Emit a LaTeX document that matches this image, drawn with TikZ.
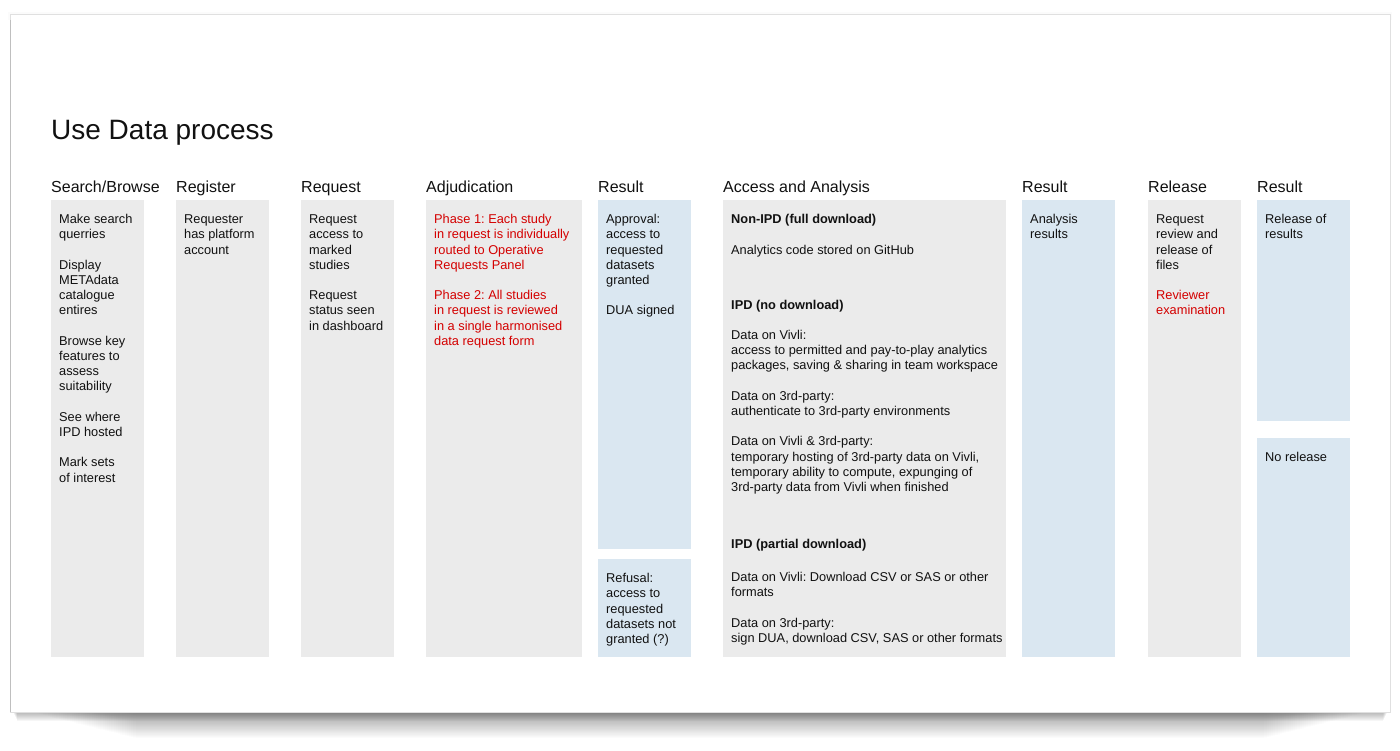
\documentclass[tikz,border=0pt]{standalone}
\usepackage{fontspec}
\setmainfont{Liberation Sans}
\definecolor{boxgray}{HTML}{EBEBEB}
\definecolor{boxblue}{HTML}{DAE7F1}
\definecolor{txtred}{HTML}{D40000}
\definecolor{txtblack}{HTML}{111111}
\newcommand\fst{\rule{0pt}{11pt}}
\newcommand\gp{\\[15.2pt]}
\frenchspacing
\tikzset{
  colbox/.style={fill=boxgray, draw=none, anchor=north west, inner sep=0, outer sep=0},
  resbox/.style={fill=boxblue, draw=none, anchor=north west, inner sep=0, outer sep=0},
  hdr/.style={anchor=base west, inner sep=0, font=\fontsize{16}{19}\selectfont, text=txtblack},
  body/.style={anchor=north west, inner sep=0, align=left, font=\fontsize{12.8}{15.2}\selectfont, text=txtblack},
  redbody/.style={body, text=txtred},
}
\begin{document}
\frenchspacing
\begin{tikzpicture}[x=1pt, y=-1pt]
\useasboundingbox (0,0) rectangle (1400,751);
% card shadow: soft halo
\foreach \i in {1,...,48}
  \fill[black, opacity=0.006] ({30+\i*2.2},600) rectangle ({1370-\i*2.2},{712+\i*0.55});
% card shadow: dark band right under the card
\foreach \i in {1,...,10}
  \fill[black, opacity=0.036] ({12+\i*0.5},600) rectangle ({1388-\i*0.5},{711+\i*1.0});
\fill[black, opacity=0.015] (8,12) rectangle (1392,20);
% card
\path[fill=white, draw=black!12, line width=1pt] (10,15) rectangle (1390,712);
\draw[black!25, line width=1pt] (10.5,20) -- (10.5,711.5);

% title
\node[anchor=base west, inner sep=0, font=\fontsize{28}{33}\selectfont, text=txtblack] (title) at (51,139.5) {Use Data process};

% headers
\node[hdr] (h1) at (51,192.5) {Search/Browse};
\node[hdr] (h2) at (176,192.5) {Register};
\node[hdr] (h3) at (301,192.5) {Request};
\node[hdr] (h4) at (426,192.5) {Adjudication};
\node[hdr] (h5) at (598,192.5) {Result};
\node[hdr] (h6) at (723,192.5) {Access and Analysis};
\node[hdr] (h7) at (1022,192.5) {Result};
\node[hdr] (h8) at (1148,192.5) {Release};
\node[hdr] (h9) at (1257,192.5) {Result};

% boxes
\node[colbox, minimum width=93, minimum height=457] (b1) at (51,200) {};
\node[colbox, minimum width=93, minimum height=457] (b2) at (176,200) {};
\node[colbox, minimum width=93, minimum height=457] (b3) at (301,200) {};
\node[colbox, minimum width=156, minimum height=457] (b4) at (426,200) {};
\node[resbox, minimum width=93, minimum height=349] (b5a) at (598,200) {};
\node[resbox, minimum width=93, minimum height=98] (b5b) at (598,559) {};
\node[colbox, minimum width=283, minimum height=457] (b6) at (723,200) {};
\node[resbox, minimum width=93, minimum height=457] (b7) at (1022,200) {};
\node[colbox, minimum width=93, minimum height=457] (b8) at (1148,200) {};
\node[resbox, minimum width=93, minimum height=221] (b9a) at (1257,200) {};
\node[resbox, minimum width=93, minimum height=219] (b9b) at (1257,438) {};

% texts
\node[body] (t1) at (59,212.5) {\fst Make search\\querries\gp Display\\METAdata\\catalogue\\entires\gp Browse key\\features to\\assess\\suitability\gp See where\\IPD hosted\gp Mark sets\\of interest};
\node[body] (t2) at (184,212.5) {\fst Requester\\has platform\\account};
\node[body] (t3) at (309,212.5) {\fst Request\\access to\\marked\\studies\gp Request\\status seen\\in dashboard};
\node[redbody] (t4) at (434,212.5) {\fst Phase 1: Each study\\in request is individually\\routed to Operative\\Requests Panel\gp Phase 2: All studies\\in request is reviewed\\in a single harmonised\\data request form};
\node[body] (t5a) at (606,212.5) {\fst Approval:\\access to\\requested\\datasets\\granted\gp DUA signed};
\node[body] (t5b) at (606,571.5) {\fst Refusal:\\access to\\requested\\datasets not\\granted (?)};
\node[body] (t6a) at (731,212.5) {\fst\bfseries Non-IPD (full download)\gp\mdseries Analytics code stored on GitHub};
\node[body] (t6b) at (731,297.8) {\fst\bfseries IPD (no download)\gp\mdseries Data on Vivli:\\access to permitted and pay-to-play analytics\\packages, saving \& sharing in team workspace\gp Data on 3rd-party:\\authenticate to 3rd-party environments\gp Data on Vivli \& 3rd-party:\\temporary hosting of 3rd-party data on Vivli,\\temporary ability to compute, expunging of\\3rd-party data from Vivli when finished};
\node[body, font=\fontsize{12.8}{15.2}\selectfont\bfseries] (t6c) at (731,537.5) {\fst IPD (partial download)};
\node[body] (t6d) at (731,570.2) {\fst Data on Vivli: Download CSV or SAS or other\\formats\gp Data on 3rd-party:\\sign DUA, download CSV, SAS or other formats};
\node[body] (t7) at (1030,212.5) {\fst Analysis\\results};
\node[body] (t8) at (1156,212.5) {\fst Request\\review and\\release of\\files\gp\textcolor{txtred}{Reviewer}\\\textcolor{txtred}{examination}};
\node[body] (t9a) at (1265,212.5) {\fst Release of\\results};
\node[body] (t9b) at (1265,450.5) {\fst No release};
\end{tikzpicture}
\end{document}
